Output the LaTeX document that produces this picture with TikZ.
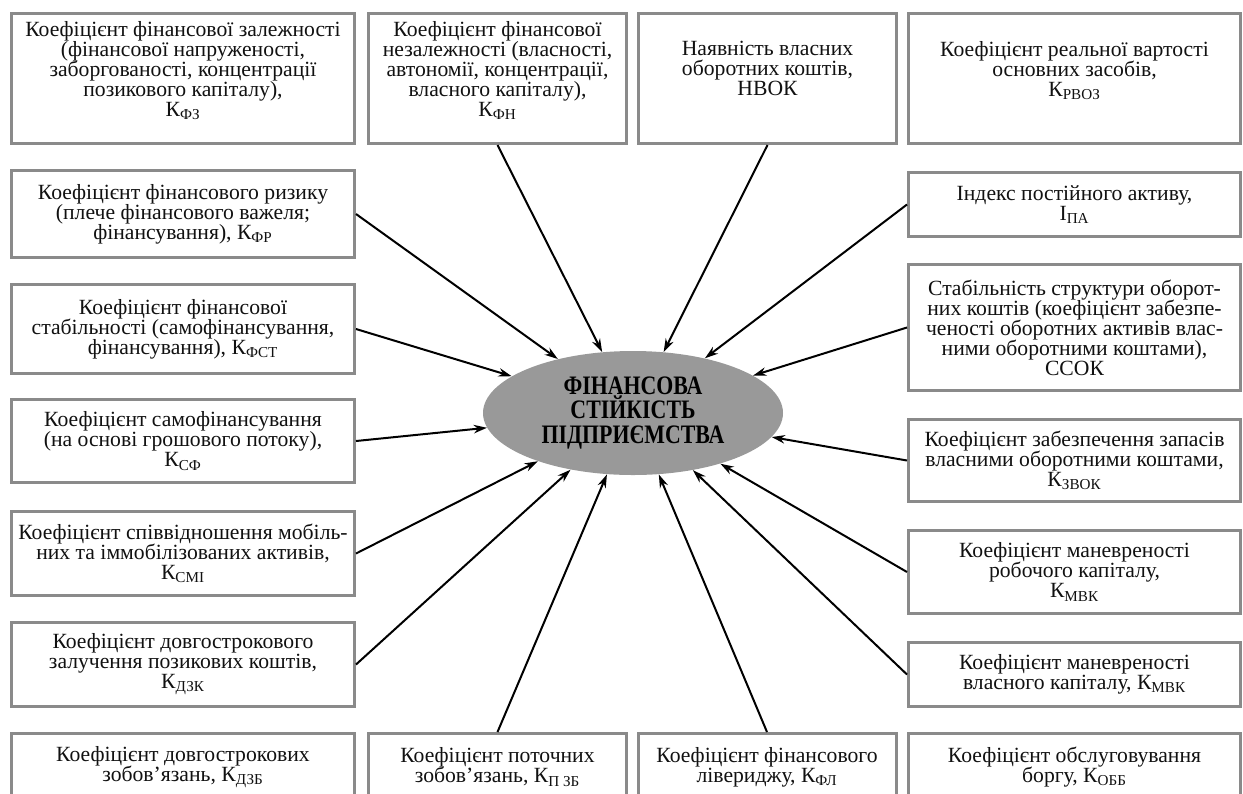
\documentclass[tikz,border=0pt]{standalone}
\usepackage{fontspec}
\setmainfont{Liberation Serif}
\newfontfamily\corefont[FakeStretch=0.82]{Liberation Serif}
\usepackage{tikz}
\usepackage{xcolor}
\usetikzlibrary{arrows.meta,shapes.geometric}
\definecolor{frame}{HTML}{8A8A8A}
\definecolor{core}{HTML}{999999}
\definecolor{text}{HTML}{111111}
\tikzset{
  block/.style={draw=frame, fill=white, line width=1.8pt, align=center,
                inner sep=2pt, text=text,
                font={\fontsize{13}{12}\selectfont\lineskiplimit=-\maxdimen}},
  hub/.style={ellipse, fill=core, draw=none, inner sep=0pt, align=center,
              font=\corefont\bfseries\fontsize{16}{14.7}\selectfont},
  arrow/.style={-{Stealth[length=2.8mm,width=1.8mm]}, line width=1.2pt, draw=black}
}
\begin{document}
\begin{tikzpicture}[x=0.6pt,y=-0.6pt]
        \useasboundingbox (0,0) rectangle (1243,793);

        % centre
        \node[hub,minimum width=180pt,minimum height=74.4pt] (core) at (633,413)
          {ФІНАНСОВА\\СТІЙКІСТЬ\\ПІДПРИЄМСТВА};

        % top row
        \node[block,minimum width=205.8pt,minimum height=78pt] (fz) at (183,78.5)
          {Коефіцієнт фінансової залежності\\(фінансової напруженості,\\заборгованості, концентрації\\позикового капіталу),\\К\textsubscript{ФЗ}\\\mbox{}};
        \node[block,minimum width=154.8pt,minimum height=78pt] (fn) at (497.5,78.5)
          {Коефіцієнт фінансової\\незалежності (власності,\\автономії, концентрації,\\власного капіталу),\\К\textsubscript{ФН}\\\mbox{}};
        \node[block,minimum width=154.8pt,minimum height=78pt] (nvok) at (767.5,78.5)
          {Наявність власних\\оборотних коштів,\\НВОК\\\mbox{}};
        \node[block,minimum width=199.2pt,minimum height=78pt] (rvoz) at (1074.5,78.5)
          {Коефіцієнт реальної вартості\\основних засобів,\\К\textsubscript{РВОЗ}\\\mbox{}};

        % left column
        \node[block,minimum width=205.8pt,minimum height=52.2pt] (fr) at (183,214)
          {Коефіцієнт фінансового ризику\\(плече фінансового важеля;\\фінансування), К\textsubscript{ФР}};
        \node[block,minimum width=205.8pt,minimum height=53.4pt] (fst) at (183,329)
          {Коефіцієнт фінансової\\стабільності (самофінансування,\\фінансування), К\textsubscript{ФСТ}};
        \node[block,minimum width=205.8pt,minimum height=49.8pt] (sf) at (183,441)
          {Коефіцієнт самофінансування\\(на основі грошового потоку),\\К\textsubscript{СФ}};
        \node[block,minimum width=205.8pt,minimum height=50.4pt] (smi) at (183,553.5)
          {Коефіцієнт співвідношення мобіль-\\них та іммобілізованих активів,\\К\textsubscript{СМІ}};
        \node[block,minimum width=205.8pt,minimum height=50.4pt] (dzk) at (183,664.5)
          {Коефіцієнт довгострокового\\залучення позикових коштів,\\К\textsubscript{ДЗК}};

        % right column
        \node[block,minimum width=199.2pt,minimum height=38.4pt] (ipa) at (1074.5,204.5)
          {Індекс постійного активу,\\І\textsubscript{ПА}};
        \node[block,minimum width=199.2pt,minimum height=75.6pt] (ssok) at (1074.5,327.5)
          {Стабільність структури оборот-\\них коштів (коефіцієнт забезпе-\\ченості оборотних активів влас-\\ними оборотними коштами),\\ССОК};
        \node[block,minimum width=199.2pt,minimum height=49.2pt] (zvok) at (1074.5,460.5)
          {Коефіцієнт забезпечення запасів\\власними оборотними коштами,\\К\textsubscript{ЗВОК}};
        \node[block,minimum width=199.2pt,minimum height=49.8pt] (mvkr) at (1074.5,572)
          {Коефіцієнт маневреності\\робочого капіталу,\\К\textsubscript{МВК}};
        \node[block,minimum width=199.2pt,minimum height=38.4pt] (mvkv) at (1074.5,674.5)
          {Коефіцієнт маневреності\\власного капіталу, К\textsubscript{МВК}};

        % bottom row (cut by the page edge)
        \node[block,minimum width=205.8pt,minimum height=40.2pt] (dzb) at (183,767)
          {Коефіцієнт довгострокових\\зобов’язань, К\textsubscript{ДЗБ}};
        \node[block,minimum width=154.8pt,minimum height=40.2pt] (pzb) at (497.5,767)
          {Коефіцієнт поточних\\зобов’язань, К\textsubscript{П ЗБ}};
        \node[block,minimum width=154.8pt,minimum height=40.2pt] (fl) at (767,767)
          {Коефіцієнт фінансового\\лівериджу, К\textsubscript{ФЛ}};
        \node[block,minimum width=199.2pt,minimum height=40.2pt] (obb) at (1074.5,767)
          {Коефіцієнт обслуговування\\боргу, К\textsubscript{ОББ}};

        \draw[arrow] (fn.south) -- (core);
        \draw[arrow] (nvok.south) -- (core);
        \foreach \src in {fr,fst,sf,smi,dzk}
          \draw[arrow] (\src.east) -- (core);
        \foreach \src in {ipa,ssok,zvok,mvkr,mvkv}
          \draw[arrow] (\src.west) -- (core);
        \draw[arrow] (pzb.north) -- (core);
        \draw[arrow] (fl.north) -- (core);
      \end{tikzpicture}
\end{document}
